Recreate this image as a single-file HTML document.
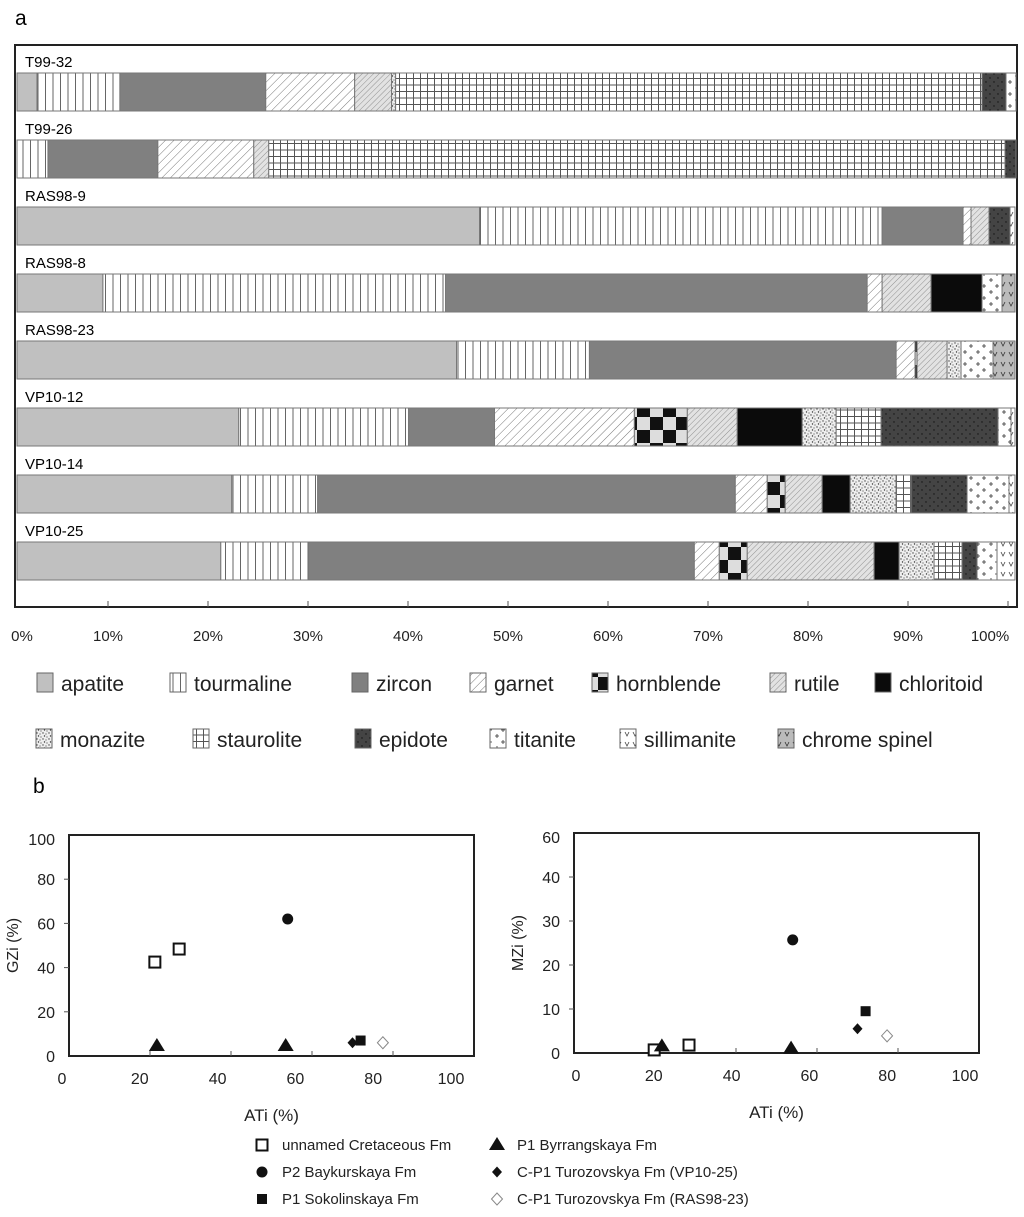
<!DOCTYPE html>
<html><head><meta charset="utf-8"><style>
html,body{margin:0;padding:0;background:#fff;}
svg{display:block;font-family:"Liberation Sans",Arial,sans-serif;}
</style></head><body>
<svg id="fig" width="1024" height="1217" viewBox="0 0 1024 1217" xmlns="http://www.w3.org/2000/svg">
<defs>
<pattern id="p-tourmaline" width="7.5" height="10" patternUnits="userSpaceOnUse"><rect width="7.5" height="10" fill="#fff"/><line x1="0.5" y1="0" x2="0.5" y2="10" stroke="#666" stroke-width="1"/></pattern>
<pattern id="p-garnet" width="6" height="6" patternUnits="userSpaceOnUse" patternTransform="rotate(45)"><rect width="6" height="6" fill="#fff"/><line x1="0" y1="0" x2="0" y2="6" stroke="#777" stroke-width="1"/></pattern>
<pattern id="p-rutile" width="4" height="4" patternUnits="userSpaceOnUse" patternTransform="rotate(45)"><rect width="4" height="4" fill="#e2e2e2"/><line x1="0" y1="0" x2="0" y2="4" stroke="#888" stroke-width="0.9"/></pattern>
<pattern id="p-hornblende" width="26" height="26" patternUnits="userSpaceOnUse" y="1"><rect width="26" height="26" fill="#ddd"/><rect width="13" height="13" fill="#111"/><rect x="13" y="13" width="13" height="13" fill="#111"/></pattern>
<pattern id="p-monazite" width="6" height="6" patternUnits="userSpaceOnUse"><rect width="6" height="6" fill="#eee"/><circle cx="1" cy="1" r="0.7" fill="#444"/><circle cx="4" cy="2" r="0.6" fill="#555"/><circle cx="2.5" cy="4" r="0.7" fill="#333"/><circle cx="5" cy="5" r="0.6" fill="#555"/></pattern>
<pattern id="p-staurolite" width="7" height="6.5" patternUnits="userSpaceOnUse"><rect width="7" height="6.5" fill="#fff"/><line x1="0.5" y1="0" x2="0.5" y2="6.5" stroke="#555"/><line x1="0" y1="0.5" x2="7" y2="0.5" stroke="#555"/></pattern>
<pattern id="p-epidote" width="8" height="8" patternUnits="userSpaceOnUse"><rect width="8" height="8" fill="#444"/><circle cx="2" cy="2" r="0.7" fill="#111"/><circle cx="6" cy="6" r="0.7" fill="#111"/></pattern>
<pattern id="p-titanite" width="13" height="12" patternUnits="userSpaceOnUse"><rect width="13" height="12" fill="#fff"/><path d="M3 2v4M1 4h4M9 8v4M7 10h4" stroke="#333" stroke-width="0.8"/></pattern>
<pattern id="p-sillimanite" width="8" height="10" patternUnits="userSpaceOnUse"><rect width="8" height="10" fill="#fff"/><path d="M1 2l2 4l2-4" fill="none" stroke="#444" stroke-width="0.8"/></pattern>
<pattern id="p-chrome" width="8" height="10" patternUnits="userSpaceOnUse"><rect width="8" height="10" fill="#bbb"/><path d="M1 2l2 4l2-4" fill="none" stroke="#333" stroke-width="0.8"/></pattern>
</defs>
<text x="15" y="25" font-size="21">a</text>
<text x="33" y="793" font-size="21">b</text>
<rect x="15" y="45" width="1002" height="562" fill="none" stroke="#222" stroke-width="2"/>
<g id="bars"></g>
<g id="pctTicks"></g>
<g id="legendA"></g>
<g id="scatterL"></g>
<g id="scatterR"></g>
<g id="legendB"></g>
</svg>
<script>
const NS="http://www.w3.org/2000/svg";
const minerals=["apatite","tourmaline","zircon","garnet","hornblende","rutile","chloritoid","monazite","staurolite","epidote","titanite","sillimanite","chrome spinel"];
const samples=["T99-32","T99-26","RAS98-9","RAS98-8","RAS98-23","VP10-12","VP10-14","VP10-25"];
const v_T99_32=[2,8.3,14.6,8.9,0,3.7,0,0.4,58.7,2.4,1.0,0,0];
const v_T99_26=[0,3.1,11,9.6,0,1.5,0,0,73.7,1.1,0,0,0];
const v_RAS98_9=[46.3,40.3,8.1,0.8,0,1.8,0,0,0,2.1,0,0.5,0];
const v_RAS98_8=[8.6,34.3,42.2,1.5,0,4.9,5.1,0,0,0,2.0,0,1.3];
const v_RAS98_23=[44,13.3,30.7,1.9,0.2,3.0,0,1.4,0,0,3.2,0,2.2];
const v_VP10_12=[22.2,17,8.6,14,5.3,5,6.5,3.4,4.5,11.7,1.3,0.4,0];
const v_VP10_14=[21.5,8.6,41.8,3.2,1.8,3.7,2.8,4.6,1.5,5.6,4.2,0.6,0];
const v_VP10_25=[20.4,8.8,38.6,2.5,2.8,12.7,2.5,3.5,2.8,1.5,2.0,1.8,0];
const pctTickLabels=["0%","10%","20%","30%","40%","50%","60%","70%","80%","90%","100%"];
// scatter data
const seriesNames=["unnamed Cretaceous Fm","P2 Baykurskaya Fm","P1 Sokolinskaya Fm","P1 Byrrangskaya Fm","C-P1 Turozovskya Fm (VP10-25)","C-P1 Turozovskya Fm (RAS98-23)"];
const seriesMarkers=["osq","circle","sq","tri","dia","odia"];
const ati_L=[[21.2,27.2],[54],[72],[21.7,53.5],[70],[77.5]];
const gzi_L=[[42.5,48.4],[62],[7],[4.5,4.5],[6],[6]];
const ati_R=[[19.8,28.4],[54],[72],[21.7,53.6],[70],[77.3]];
const mzi_R=[[0.7,1.8],[25.7],[9.5],[1.5,1],[5.5],[3.9]];
const xTickVals=[0,20,40,60,80,100];
const gziTickVals=[0,20,40,60,80,100];
const mziTickVals=[0,10,20,30,40,50];
const mziTickLabels=["0","10","20","30","40","60"];

const sampleVals=[v_T99_32,v_T99_26,v_RAS98_9,v_RAS98_8,v_RAS98_23,v_VP10_12,v_VP10_14,v_VP10_25];
const fills={"apatite":"#c0c0c0","tourmaline":"url(#p-tourmaline)","zircon":"#808080","garnet":"url(#p-garnet)","hornblende":"url(#p-hornblende)","rutile":"url(#p-rutile)","chloritoid":"#0b0b0b","monazite":"url(#p-monazite)","staurolite":"url(#p-staurolite)","epidote":"url(#p-epidote)","titanite":"url(#p-titanite)","sillimanite":"url(#p-sillimanite)","chrome spinel":"url(#p-chrome)"};
function mk(tag,attrs,parent){const e=document.createElementNS(NS,tag);for(const k in attrs)e.setAttribute(k,attrs[k]);parent.appendChild(e);return e;}
const barX=p=>17+p*9.99;
const bars=document.getElementById("bars");
samples.forEach((s,i)=>{
  const top=73+i*67;
  const t=mk("text",{x:25,y:top-6,"font-size":15},bars);t.textContent=s;
  
  
  let acc=0;
  sampleVals[i].forEach((v,j)=>{
    if(v<=0)return;
    const r=mk("rect",{x:barX(acc),y:top,width:barX(acc+v)-barX(acc),height:38,fill:fills[minerals[j]],stroke:"#777","stroke-width":1},bars);
    
    
    acc+=v;
  });
});
const pt=document.getElementById("pctTicks");
pctTickLabels.forEach((l,k)=>{
  const x=8+k*100;
  if(x>15&&x<1017){mk("line",{x1:x,y1:607,x2:x,y2:601,stroke:"#555"},pt);}
  let cx=Math.min(Math.max(x,22),990);
  const t=mk("text",{x:cx,y:641,"font-size":15,"text-anchor":"middle",fill:"#222"},pt);t.textContent=l;
  
  
});
const lg=document.getElementById("legendA");
const legPos=[[37,684],[170,684],[352,684],[470,684],[592,684],[770,684],[875,684],[36,740],[193,740],[355,740],[490,740],[620,740],[778,740]];
minerals.forEach((m,j)=>{
  const [x,y]=legPos[j];
  const g=mk("g",{},lg);
  
  
  mk("rect",{x:x,y:y-11,width:16,height:19,fill:fills[m],stroke:"#666"},g);
  const t=mk("text",{x:x+24,y:y+7,"font-size":21,fill:"#222"},g);t.textContent=m;
});
function marker(g,type,x,y){
  let e;
  if(type==="osq")e=mk("rect",{x:x-5.5,y:y-5.5,width:11,height:11,fill:"#fff",stroke:"#111","stroke-width":2},g);
  else if(type==="sq")e=mk("rect",{x:x-5,y:y-5,width:10,height:10,fill:"#111"},g);
  else if(type==="circle")e=mk("circle",{cx:x,cy:y,r:5.5,fill:"#111"},g);
  else if(type==="tri")e=mk("polygon",{points:`${x},${y-8} ${x+8},${y+5} ${x-8},${y+5}`,fill:"#111"},g);
  else if(type==="dia")e=mk("polygon",{points:`${x},${y-5.5} ${x+5},${y} ${x},${y+5.5} ${x-5},${y}`,fill:"#111"},g);
  else e=mk("polygon",{points:`${x},${y-6} ${x+5.5},${y} ${x},${y+6} ${x-5.5},${y}`,fill:"#fff",stroke:"#888","stroke-width":1},g);
  
  
  return e;
}
function scatter(id,cfg){
  const g=document.getElementById(id);
  const sx=v=>cfg.x0+(cfg.x1-cfg.x0)*v/100;
  const sy=v=>cfg.yb-(cfg.yb-cfg.yt)*v/cfg.ymax;
  mk("rect",{x:cfg.x0,y:cfg.yt,width:cfg.x1-cfg.x0,height:cfg.yb-cfg.yt,fill:"none",stroke:"#222","stroke-width":2},g);
  xTickVals.forEach((v,k)=>{
    if(v>0&&v<100)mk("line",{x1:sx(v),y1:cfg.yb,x2:sx(v),y2:cfg.yb-5,stroke:"#555"},g);
    const t=mk("text",{x:cfg.lx0+v*cfg.lxs,y:cfg.yb+28,"font-size":16,"text-anchor":"middle",fill:"#222"},g);t.textContent=String(v);
    
    
  });
  cfg.yticks.forEach((v,k)=>{
    if(v>0&&v<cfg.ymax)mk("line",{x1:cfg.x0-5,y1:sy(v),x2:cfg.x0,y2:sy(v),stroke:"#555"},g);
    const t=mk("text",{x:cfg.x0-14,y:sy(v)+6+(k===cfg.yticks.length-1?4:0),"font-size":16,"text-anchor":"end",fill:"#222"},g);t.textContent=cfg.ylabels[k];
    
    
  });
  const xt=mk("text",{x:(cfg.x0+cfg.x1)/2,y:cfg.yb+65,"font-size":17,"text-anchor":"middle",fill:"#222"},g);xt.textContent="ATi (%)";
  
  
  const yt=mk("text",{x:0,y:0,"font-size":16,"text-anchor":"middle",fill:"#222",transform:`translate(${cfg.x0-51},${(cfg.yt+cfg.yb)/2}) rotate(-90)`},g);yt.textContent=cfg.ytitle;
  
  
  seriesMarkers.forEach((m,s)=>{
    cfg.xs[s].forEach((xv,k)=>marker(g,m,sx(xv),sy(cfg.ys[s][k])));
  });
}
scatter("scatterL",{x0:69,x1:474,yt:835,yb:1056,ymax:100,yticks:gziTickVals,ylabels:gziTickVals.map(String),xs:ati_L,ys:gzi_L,ytitle:"GZi (%)",lx0:62,lxs:3.89});
scatter("scatterR",{x0:574,x1:979,yt:833,yb:1053,ymax:50,yticks:mziTickVals,ylabels:mziTickLabels,xs:ati_R,ys:mzi_R,ytitle:"MZi (%)",lx0:576,lxs:3.89});
const lb=document.getElementById("legendB");
const lbPos=[[262,1150],[262,1177],[262,1204],[497,1150],[497,1177],[497,1204]];
seriesNames.forEach((n,s)=>{
  const [x,y]=lbPos[s];
  const g=mk("g",{},lb);
  
  
  marker(g,seriesMarkers[s],x,y-5);
  const t=mk("text",{x:x+20,y:y,"font-size":15,fill:"#222"},g);t.textContent=n;
});
</script>
</body></html>
